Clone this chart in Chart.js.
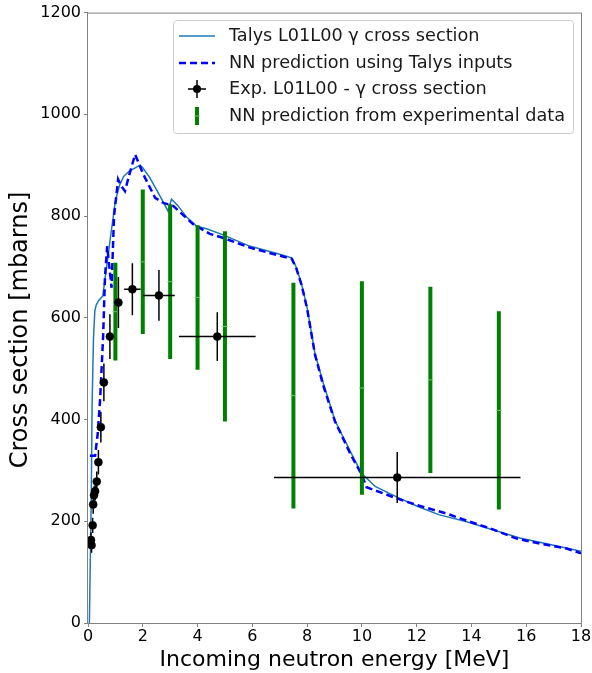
<!DOCTYPE html>
<html>
<head>
<meta charset="utf-8">
<script src="https://cdn.jsdelivr.net/npm/chart.js@4.4.0/dist/chart.umd.min.js"></script>
<style>
  html, body { margin: 0; padding: 0; background: #fff; }
  #wrap { width: 592px; height: 673px; position: relative; }
</style>
</head>
<body>
<div id="wrap"><canvas id="xsChart"></canvas></div>
<script>
// Talys L01L00 gamma cross section (solid)
var talysE = [0.05, 0.12, 0.15, 0.2, 0.25, 0.3, 0.38, 0.54, 0.8, 1.0, 1.15, 1.3, 1.5, 1.9, 2.0, 2.26, 2.63, 2.92, 3.05, 3.29, 3.6, 3.97, 4.33, 4.93, 5.9, 7.0, 7.44, 7.6, 7.8, 8.0, 8.29, 8.6, 9.02, 9.2, 9.6, 9.99, 10.5, 11.27, 12.0, 12.8, 13.83, 14.8, 15.77, 17.0, 18.0];
var talysV = [0, 250, 430, 560, 614, 625, 633, 643, 750, 830, 860, 878, 888, 900, 895, 875, 839, 810, 833, 820, 798, 780, 775, 763, 741, 725, 718, 700, 666, 620, 529, 470, 398, 378, 335, 294, 268, 248, 230, 213, 199, 183, 167, 153, 141];

// NN prediction using Talys inputs (dashed)
var nnTalysE = [0.07, 0.26, 0.35, 0.44, 0.55, 0.62, 0.7, 0.78, 0.86, 0.95, 1.1, 1.2, 1.35, 1.5, 1.72, 2.02, 2.45, 2.75, 3.11, 3.84, 4.45, 4.94, 5.91, 7.0, 7.44, 7.6, 7.8, 8.0, 8.29, 8.6, 9.02, 9.2, 9.6, 9.99, 10.17, 11.27, 12.0, 13.1, 14.0, 14.68, 15.65, 16.5, 17.5, 18.0];
var nnTalysV = [329, 329, 370, 437, 560, 680, 741, 700, 659, 800, 872, 860, 849, 880, 921, 882, 836, 826, 820, 784, 765, 757, 738, 722, 716, 698, 664, 618, 527, 465, 396, 376, 330, 292, 267, 245, 232, 215, 198, 186, 166, 156, 146, 137];

// Experimental L01L00 gamma cross section
var expE    = [0.11, 0.13, 0.17, 0.19, 0.22, 0.26, 0.32, 0.38, 0.47, 0.58, 0.80, 1.11, 1.62, 2.59, 4.72, 11.29];
var expV    = [163, 153, 192, 233, 251, 259, 278, 316, 385, 473, 563, 630, 656, 644, 563, 286];
var expYErr = [15, 15, 15, 18, 18, 18, 20, 24, 30, 37, 44, 50, 51, 50, 48, 50];
var expXErr = [0, 0, 0, 0, 0, 0, 0, 0, 0, 0, 0, 0, 0.3, 0.58, 1.4, 4.5];

// NN prediction from experimental data
var nnExpE   = [1, 2, 3, 4, 5, 7.5, 10, 12.5, 15];
var nnExpV   = [612, 710, 671, 640, 583, 447, 462, 478, 418];
var nnExpErr = [96, 142, 152, 142, 187, 222, 210, 183, 195];

var FONT = "'DejaVu Sans', sans-serif";

function pts(xs, ys) {
  return xs.map(function(x, i) { return { x: x, y: ys[i] }; });
}

var expData = expE.map(function(e, i) {
  return { x: e, y: expV[i], xErr: expXErr[i], yErr: expYErr[i] };
});
var nnExpData = nnExpE.map(function(e, i) {
  return { x: e, y: nnExpV[i], xErr: 0, yErr: nnExpErr[i] };
});

// error bars, frame, y title and matplotlib-like legend
var errorBars = {
  id: 'errorBars',
  beforeDatasetDraw: function(chart, args) {
    var ds = chart.data.datasets[args.index];
    if (!ds.errBar) return;
    var ctx = chart.ctx, x = chart.scales.x, y = chart.scales.y, a = chart.chartArea;
    ctx.save();
    ctx.beginPath();
    ctx.rect(a.left, a.top, a.right - a.left, a.bottom - a.top);
    ctx.clip();
    ctx.strokeStyle = ds.errBar.color;
    ctx.lineWidth = ds.errBar.width;
    ds.data.forEach(function(p) {
      var px = x.getPixelForValue(p.x), py = y.getPixelForValue(p.y);
      ctx.beginPath();
      ctx.moveTo(px, y.getPixelForValue(p.y - p.yErr));
      ctx.lineTo(px, y.getPixelForValue(p.y + p.yErr));
      if (p.xErr) {
        ctx.moveTo(x.getPixelForValue(p.x - p.xErr), py);
        ctx.lineTo(x.getPixelForValue(p.x + p.xErr), py);
      }
      ctx.stroke();
    });
    ctx.restore();
  },
  afterDraw: function(chart) {
    var ctx = chart.ctx, a = chart.chartArea;
    ctx.save();
    ctx.strokeStyle = '#808080';
    ctx.lineWidth = 1;
    ctx.strokeRect(a.left - 0.5, a.top + 0.5, a.right - a.left + 1, a.bottom - a.top);

    // y axis title (sits a bit below the axis centre in the original)
    ctx.save();
    ctx.translate(21, 330);
    ctx.rotate(-Math.PI / 2);
    ctx.fillStyle = '#000';
    ctx.font = '24px ' + FONT;
    ctx.textAlign = 'center';
    ctx.textBaseline = 'middle';
    ctx.fillText('Cross section [mbarns]', 0, 0);
    ctx.restore();

    // legend
    var bx = 173, by = 20, bw = 400, bh = 113;
    ctx.fillStyle = 'rgba(255,255,255,0.8)';
    ctx.strokeStyle = '#cccccc';
    ctx.beginPath();
    ctx.roundRect(bx + 0.5, by + 0.5, bw, bh, 3);
    ctx.fill();
    ctx.stroke();

    var rows = [36, 63, 89, 116];
    var hx0 = 179, hx1 = 215, hxc = 197, tx = 229;
    ctx.strokeStyle = '#1f77b4'; ctx.lineWidth = 1.5;
    ctx.beginPath(); ctx.moveTo(hx0, rows[0]); ctx.lineTo(hx1, rows[0]); ctx.stroke();
    ctx.strokeStyle = '#0000ff'; ctx.lineWidth = 2.5; ctx.setLineDash([7, 4]);
    ctx.beginPath(); ctx.moveTo(hx0, rows[1]); ctx.lineTo(hx1, rows[1]); ctx.stroke();
    ctx.setLineDash([]);
    ctx.strokeStyle = '#000'; ctx.lineWidth = 1.5;
    ctx.beginPath();
    ctx.moveTo(hxc - 9, rows[2]); ctx.lineTo(hxc + 9, rows[2]);
    ctx.moveTo(hxc, rows[2] - 9); ctx.lineTo(hxc, rows[2] + 9);
    ctx.stroke();
    ctx.fillStyle = '#000';
    ctx.beginPath(); ctx.arc(hxc, rows[2], 4, 0, Math.PI * 2); ctx.fill();
    ctx.strokeStyle = '#008000'; ctx.lineWidth = 4;
    ctx.beginPath(); ctx.moveTo(hxc, rows[3] - 9); ctx.lineTo(hxc, rows[3] + 9); ctx.stroke();
    ctx.strokeStyle = 'rgba(120,200,120,0.9)'; ctx.lineWidth = 1;
    ctx.beginPath(); ctx.moveTo(hxc - 3, rows[3]); ctx.lineTo(hxc + 3, rows[3]); ctx.stroke();

    ctx.fillStyle = '#1a1a1a';
    ctx.font = '17.7px ' + FONT;
    ctx.textBaseline = 'middle';
    ctx.textAlign = 'left';
    var labels = ['Talys L01L00 γ cross section', 'NN prediction using Talys inputs',
                  'Exp. L01L00 - γ cross section', 'NN prediction from experimental data'];
    labels.forEach(function(t, i) { ctx.fillText(t, tx, rows[i]); });
    ctx.restore();
  }
};

new Chart(document.getElementById('xsChart'), {
  type: 'scatter',
  data: {
    datasets: [
      {
        label: 'Talys L01L00 γ cross section',
        type: 'line',
        data: pts(talysE, talysV),
        borderColor: '#1f77b4',
        borderWidth: 1.5,
        pointRadius: 0,
        tension: 0,
        order: 4
      },
      {
        label: 'NN prediction using Talys inputs',
        type: 'line',
        data: pts(nnTalysE, nnTalysV),
        borderColor: '#0000ff',
        borderWidth: 2.5,
        borderDash: [7, 4],
        pointRadius: 0,
        tension: 0,
        order: 3
      },
      {
        label: 'NN prediction from experimental data',
        data: nnExpData,
        errBar: { color: '#008000', width: 4 },
        pointStyle: 'line',
        pointRadius: 3,
        borderColor: 'rgba(120,200,120,0.9)',
        borderWidth: 1,
        order: 2
      },
      {
        label: 'Exp. L01L00 - γ cross section',
        data: expData,
        errBar: { color: '#000000', width: 1.5 },
        pointRadius: 4,
        borderWidth: 0.5,
        backgroundColor: '#000',
        borderColor: '#000',
        order: 1
      }
    ]
  },
  options: {
    responsive: true,
    maintainAspectRatio: false,
    animation: false,
    layout: { padding: { left: 0, top: 11, right: 11, bottom: 0 } },
    plugins: {
      legend: { display: false },
      tooltip: { enabled: false }
    },
    scales: {
      x: {
        type: 'linear',
        min: 0, max: 18,
        afterFit: function(s) { s.height = 50; },
        border: { display: false },
        grid: { display: true, drawOnChartArea: false, drawTicks: true, tickLength: 4, color: '#808080' },
        ticks: { stepSize: 2, color: '#000', font: { family: FONT, size: 16 }, padding: 0, maxRotation: 0 },
        title: { display: true, text: 'Incoming neutron energy [MeV]', color: '#000', font: { family: FONT, size: 22 }, padding: { top: 0, bottom: 0 } }
      },
      y: {
        min: 0, max: 1200,
        afterFit: function(s) { s.width = 88; },
        border: { display: false },
        grid: { display: true, drawOnChartArea: false, drawTicks: true, tickLength: 4, color: '#808080' },
        ticks: {
          stepSize: 200, color: '#000', font: { family: FONT, size: 16 }, padding: 3,
          callback: function(v) { return String(v); }
        },
        title: { display: false }
      }
    }
  },
  plugins: [errorBars]
});
</script>
</body>
</html>
